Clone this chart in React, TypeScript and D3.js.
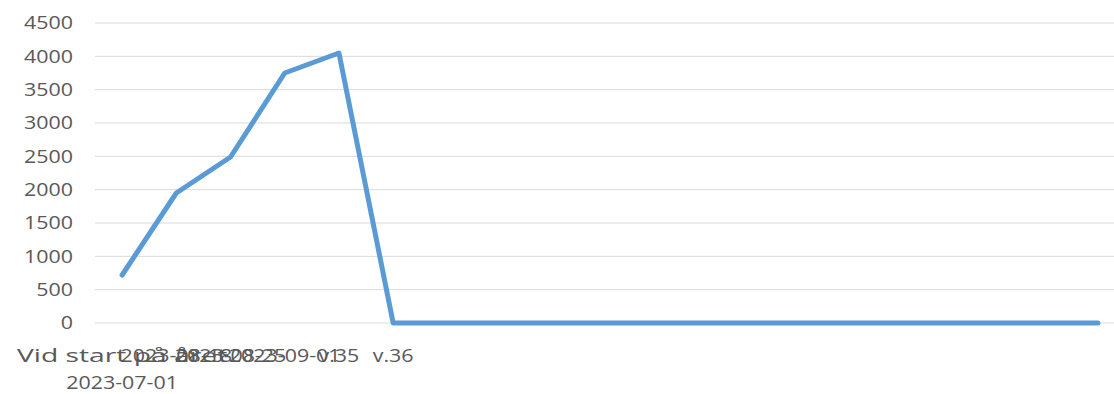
import React from "react";
import * as d3 from "d3";

const categories: string[] = [
  "Vid start på året|2023-07-01",
  "2023-08-18",
  "2023-08-25",
  "2023-09-01",
  "v.35",
  "v.36",
  "", "", "", "", "", "", "", "", "", "", "", "", "",
];
const values: number[] = [720, 1950, 2490, 3750, 4050, 0, 0, 0, 0, 0, 0, 0, 0, 0, 0, 0, 0, 0, 0];
const yTicks: number[] = [0, 500, 1000, 1500, 2000, 2500, 3000, 3500, 4000, 4500];

const W = 1114;
const H = 394;
const left = 95;
const right = 1125;
const top = 23;
const bottom = 323;
const font = "'Open Sans', 'Liberation Sans', sans-serif";
const textColor = "#595959";
const fs = 18;
const sx = 1.19;

const stretch = (ax: number) => `translate(${ax},0) scale(${sx},1) translate(${-ax},0)`;

export default function App() {
  const x = d3.scaleBand<number>().domain(d3.range(categories.length)).range([left, right]);
  const y = d3.scaleLinear().domain([0, 4500]).range([bottom, top]);
  const line = d3
    .line<number>()
    .x((_, i) => (x(i) as number) + x.bandwidth() / 2)
    .y((d) => y(d));

  return (
    <svg width={W} height={H} style={{ position: "absolute", left: 0, top: 0, background: "#fff" }}>
      <rect width={W} height={H} fill="#fff" />
      {yTicks.map((t) => (
        <g key={t}>
          <line x1={left} x2={right} y1={y(t)} y2={y(t)} stroke="#d9d9d9" strokeWidth={1} />
          <text
            x={73}
            y={y(t)}
            dy="0.35em"
            textAnchor="end"
            fontFamily={font}
            fontSize={fs}
            fill={textColor}
            transform={stretch(73)}
          >
            {t}
          </text>
        </g>
      ))}
      <path d={line(values) || ""} fill="none" stroke="#5b9bd5" strokeWidth={5} strokeLinejoin="round" strokeLinecap="round" />
      {categories.map((c, i) => {
        if (!c) return null;
        const cx = (x(i) as number) + x.bandwidth() / 2;
        const parts = c.split("|");
        if (parts.length > 1) {
          return (
            <g key={i} fontFamily={font} fontSize={fs} fill={textColor}>
              <text x={cx} y={362} textAnchor="middle" textLength={2 * (cx - 17)} lengthAdjust="spacingAndGlyphs">
                {parts[0]}
              </text>
              <text x={cx} y={389} textAnchor="middle" transform={stretch(cx)}>{parts[1]}</text>
            </g>
          );
        }
        return (
          <text
            key={i}
            x={cx}
            y={362}
            textAnchor="middle"
            fontFamily={font}
            fontSize={fs}
            fill={textColor}
            transform={stretch(cx)}
          >
            {c}
          </text>
        );
      })}
    </svg>
  );
}
